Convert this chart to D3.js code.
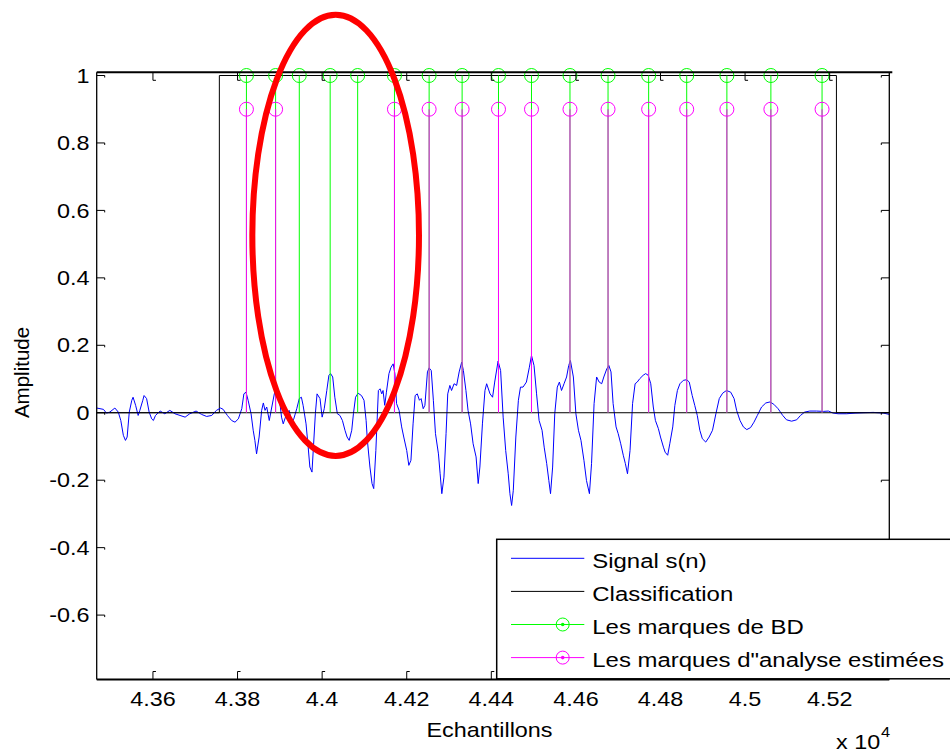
<!DOCTYPE html>
<html><head><meta charset="utf-8">
<script src="https://cdn.jsdelivr.net/npm/d3@7"></script>
<style>
body{margin:0;background:#fff}
svg{display:block}
text{font-family:"Liberation Sans",Arial,Helvetica,sans-serif;fill:#000}
</style>
</head><body>
<svg id="chart" width="950" height="754"></svg>
<script>
// ---------- data ----------
const signalSamples = [
43467,43483,43490,43498,43510,43518,43524,43530,43535,43539,
43544,43550,43553,43559,43565,43569,43576,43579,43585,43591,
43597,43601,43606,43617,43628,43640,43652,43664,43676,43687,
43702,43715,43727,43739,43750,43760,43766,43776,43786,43794,
43802,43810,43815,43820,43825,43832,43837,43841,43845,43851,
43857,43861,43865,43869,43875,43881,43887,43892,43899,43904,
43908,43916,43922,43928,43933,43940,43946,43951,43955,43962,
43967,43971,43976,43979,43984,43988,43995,44000,44005,44011,
44016,44020,44025,44030,44036,44042,44048,44054,44059,44064,
44070,44074,44079,44085,44093,44099,44104,44107,44113,44118,
44122,44127,44133,44137,44141,44144,44148,44152,44158,44163,
44168,44172,44176,44182,44188,44193,44200,44205,44210,44215,
44220,44225,44230,44234,44239,44243,44249,44253,44258,44263,
44268,44275,44279,44283,44288,44293,44297,44302,44306,44312,
44318,44324,44330,44334,44340,44345,44351,44357,44364,44369,
44373,44379,44385,44389,44397,44403,44408,44416,44422,44428,
44434,44440,44444,44448,44452,44458,44464,44469,44475,44483,
44490,44495,44501,44507,44513,44520,44525,44531,44536,44540,
44545,44550,44556,44561,44566,44572,44578,44583,44587,44594,
44600,44606,44612,44619,44625,44632,44637,44643,44649,44655,
44661,44666,44673,44678,44683,44688,44695,44700,44706,44712,
44717,44722,44728,44734,44740,44745,44751,44759,44765,44771,
44777,44783,44788,44795,44800,44807,44811,44817,44822,44829,
44834,44840,44846,44854,44862,44868,44875,44881,44887,44893,
44899,44907,44915,44923,44931,44939,44947,44956,44966,44974,
44980,44988,44996,45004,45013,45021,45029,45039,45049,45059,
45068,45078,45089,45098,45110,45122,45131,45141,45153,45169,
45185,45197,45208,45220,45240,45260,45279,45303,45327,45341];
const signalValues = [
0.014,0.010,-0.001,0.002,0.014,0.002,-0.023,-0.067,-0.082,-0.072,
0.002,0.037,0.046,0.022,-0.008,0.007,0.037,0.051,0.042,0.002,
-0.018,-0.023,-0.008,0.005,-0.003,0.007,-0.003,-0.008,-0.013,-0.003,
0.005,-0.005,-0.011,-0.008,0.007,0.014,0.010,-0.008,-0.023,-0.028,
-0.018,0.012,0.056,0.061,0.037,-0.003,-0.052,-0.082,-0.122,-0.072,
0.007,0.029,0.007,0.017,-0.023,0.017,0.056,0.076,0.042,-0.013,
-0.033,-0.003,0.007,-0.028,-0.018,0.012,0.042,0.046,0.022,-0.033,
-0.102,-0.161,-0.176,-0.112,-0.003,0.056,0.042,-0.013,0.012,0.066,
0.111,0.116,0.106,0.046,-0.003,-0.008,-0.023,-0.052,-0.072,-0.082,
-0.052,-0.003,0.046,0.058,0.051,0.037,-0.023,-0.082,-0.161,-0.210,
-0.225,-0.112,0.066,0.071,0.056,0.066,0.022,0.061,0.116,0.135,
0.145,0.116,0.027,0.007,-0.042,-0.072,-0.112,-0.156,-0.141,-0.033,
0.051,0.056,0.037,0.042,0.012,0.022,0.121,0.133,0.125,0.037,
-0.062,-0.122,-0.181,-0.240,-0.191,-0.062,0.056,0.081,0.066,0.086,
0.081,0.121,0.150,0.125,0.066,0.007,-0.033,-0.092,-0.131,-0.210,
-0.161,-0.033,0.066,0.086,0.056,0.046,0.091,0.153,0.125,-0.013,
-0.112,-0.181,-0.240,-0.275,-0.230,-0.072,0.037,0.076,0.076,0.091,
0.135,0.170,0.140,0.056,-0.023,-0.052,-0.102,-0.151,-0.201,-0.240,
-0.161,-0.003,0.076,0.091,0.066,0.086,0.106,0.140,0.155,0.106,
-0.003,-0.052,-0.082,-0.141,-0.201,-0.240,-0.151,0.027,0.106,0.091,
0.086,0.106,0.130,0.140,0.121,0.027,-0.042,-0.062,-0.092,-0.126,
-0.151,-0.181,-0.112,0.027,0.086,0.091,0.101,0.111,0.116,0.111,
0.086,0.017,-0.023,-0.047,-0.072,-0.102,-0.117,-0.126,-0.092,-0.042,
0.022,0.066,0.086,0.096,0.098,0.091,0.051,0.022,-0.008,-0.052,
-0.077,-0.087,-0.072,-0.052,-0.003,0.042,0.058,0.066,0.061,0.042,
0.007,-0.023,-0.042,-0.050,-0.044,-0.028,-0.008,0.017,0.029,0.032,
0.025,0.012,-0.008,-0.021,-0.025,-0.021,-0.008,0.002,0.005,0.005,
0.004,0.005,-0.001,-0.003,-0.003,-0.001,0.000,0.001,-0.001,-0.005];

const classifSamples = [43467, 43757, 43757, 45216, 45216, 45341];
const classifValues  = [0, 0, 1, 1, 0, 0];

const bdMarks  = [43821,43890,43946,44019,44084,44171,44253,44331,44417,44495,44586,44676,44772,44862,44957,45061,45182];
const bdValue  = 1;
const estMarks = [43821,43890,44171,44253,44331,44417,44495,44586,44676,44772,44862,44957,45061,45182];
const estValue = 0.9;

const xTicks = [43600,43800,44000,44200,44400,44600,44800,45000,45200];
const yTicks = [-0.6,-0.4,-0.2,0,0.2,0.4,0.6,0.8,1];
const xDomain = [43467, 45341];
const yDomain = [-0.791, 1.0095];

const legendLabels = ["Signal s(n)", "Classification", "Les marques de BD", "Les marques d\"analyse estimées"];
const legendColors = ["#0000ff", "#000000", "#00ff00", "#ff00ff"];
const legendMarker = [false, false, true, true];

// annotation ellipse (centre sample / amplitude, radii in data units)
const ellipseCenter = [44032, 0.526];
const ellipseRadii  = [197, 0.654];

// ---------- drawing ----------
const L = 96.7, R = 889.3, T = 72.3, B = 679.5;
const svg = d3.select("#chart");
const x = d3.scaleLinear().domain(xDomain).range([L, R]);
const y = d3.scaleLinear().domain(yDomain).range([B, T]);
const SX = 1.17; // horizontal stretch of the reference text
const fmtY = v => d3.format("~g")(v).replace("\u2212", "-");

const plot = svg.append("g");
plot.append("clipPath").attr("id","clip").append("rect")
  .attr("x",L).attr("y",T).attr("width",R-L).attr("height",B-T);
const inner = plot.append("g").attr("clip-path","url(#clip)");

// classification
inner.append("path")
  .datum(d3.zip(classifSamples, classifValues))
  .attr("fill","none").attr("stroke","#000").attr("stroke-width",1)
  .attr("d", d3.line().x(d=>x(d[0])).y(d=>y(d[1])));

// signal
inner.append("path")
  .datum(d3.zip(signalSamples, signalValues))
  .attr("fill","none").attr("stroke","#0000ff").attr("stroke-width",1)
  .attr("d", d3.line().x(d=>x(d[0])).y(d=>y(d[1])));

// stem baseline
inner.append("line").attr("x1",L).attr("x2",R).attr("y1",y(0)).attr("y2",y(0))
  .attr("stroke","#000").attr("stroke-width",1);

// BD stems
inner.selectAll(".bd").data(bdMarks).join("line").attr("class","bd")
  .attr("x1",d=>x(d)).attr("x2",d=>x(d)).attr("y1",y(0)).attr("y2",y(bdValue))
  .attr("stroke","#00ff00").attr("stroke-width",1);
// estimated stems
inner.selectAll(".es").data(estMarks).join("line").attr("class","es")
  .attr("x1",d=>x(d)).attr("x2",d=>x(d)).attr("y1",y(0)).attr("y2",y(estValue))
  .attr("stroke","#ff00ff").attr("stroke-width",1);
plot.selectAll(".bdc").data(bdMarks).join("circle").attr("class","bdc")
  .attr("cx",d=>x(d)).attr("cy",y(bdValue)).attr("r",7)
  .attr("fill","none").attr("stroke","#00ff00").attr("stroke-width",1);
plot.selectAll(".esc").data(estMarks).join("circle").attr("class","esc")
  .attr("cx",d=>x(d)).attr("cy",y(estValue)).attr("r",7)
  .attr("fill","none").attr("stroke","#ff00ff").attr("stroke-width",1);

// axes box
const ax = svg.append("g");
ax.append("line").attr("x1",L).attr("x2",R+3).attr("y1",T).attr("y2",T).attr("stroke","#000").attr("stroke-width",2);
ax.append("line").attr("x1",L).attr("x2",R).attr("y1",B).attr("y2",B).attr("stroke","#000").attr("stroke-width",2);
ax.append("line").attr("x1",L).attr("x2",L).attr("y1",T).attr("y2",B).attr("stroke","#000").attr("stroke-width",1.3);
ax.append("line").attr("x1",R).attr("x2",R).attr("y1",T).attr("y2",B).attr("stroke","#000").attr("stroke-width",1.3);

const tk = 8;
// x ticks bottom & top
xTicks.forEach(v => {
  const px = x(v);
  ax.append("path").attr("d",`M${px},${B} V${B-tk} h3`).attr("fill","none").attr("stroke","#000").attr("stroke-width",1);
  ax.append("path").attr("d",`M${px},${T} V${T+tk} h3`).attr("fill","none").attr("stroke","#000").attr("stroke-width",1);
  ax.append("text").attr("transform",`translate(${px},706) scale(${SX},1)`)
    .attr("text-anchor","middle").attr("font-size",20).text(d3.format(".3~f")(v/1e4));
});
// y ticks left & right
yTicks.forEach(v => {
  const py = y(v);
  ax.append("path").attr("d",`M${L},${py} H${L+tk} v2`).attr("fill","none").attr("stroke","#000").attr("stroke-width",1);
  ax.append("path").attr("d",`M${R},${py} H${R-tk} v2`).attr("fill","none").attr("stroke","#000").attr("stroke-width",1);
  ax.append("text").attr("transform",`translate(89.5,${py+7.2}) scale(${SX},1)`)
    .attr("text-anchor","end").attr("font-size",20).text(fmtY(v));
});

// axis labels
svg.append("text").attr("transform",`translate(489.5,737) scale(${SX},1)`)
  .attr("text-anchor","middle").attr("font-size",20).text("Echantillons");
svg.append("text").attr("transform","translate(28.5,372.5) rotate(-90)")
  .attr("text-anchor","middle").attr("font-size",20.5).text("Amplitude");
svg.append("text").attr("transform",`translate(836,749) scale(${SX},1)`).attr("font-size",20).text("x 10");
svg.append("text").attr("transform",`translate(881,737) scale(${SX},1)`).attr("font-size",14).text("4");

// legend
const lg = svg.append("g");
lg.append("rect").attr("x",496.7).attr("y",539.3).attr("width",470).attr("height",139.5)
  .attr("fill","#fff").attr("stroke","#000").attr("stroke-width",1.5);
legendLabels.forEach((lab,i) => {
  const ly = 558.3 + i*33.1;
  lg.append("line").attr("x1",511).attr("x2",584.3).attr("y1",ly).attr("y2",ly)
    .attr("stroke",legendColors[i]).attr("stroke-width",1);
  if (legendMarker[i]) {
    lg.append("circle").attr("cx",562.7).attr("cy",ly).attr("r",6.5)
      .attr("fill","none").attr("stroke",legendColors[i]).attr("stroke-width",1);
    lg.append("circle").attr("cx",562.7).attr("cy",ly).attr("r",1.8).attr("fill",legendColors[i]);
  }
  lg.append("text").attr("transform",`translate(592.3,${ly+9.6}) scale(1.14,1)`)
    .attr("font-size",21).text(lab);
});

// red annotation ellipse
svg.append("ellipse")
  .attr("cx", x(ellipseCenter[0])).attr("cy", y(ellipseCenter[1]))
  .attr("rx", x(ellipseCenter[0]+ellipseRadii[0]) - x(ellipseCenter[0]))
  .attr("ry", y(0) - y(ellipseRadii[1]))
  .attr("fill","none").attr("stroke","#ff0000").attr("stroke-width",6);
</script>
</body></html>
